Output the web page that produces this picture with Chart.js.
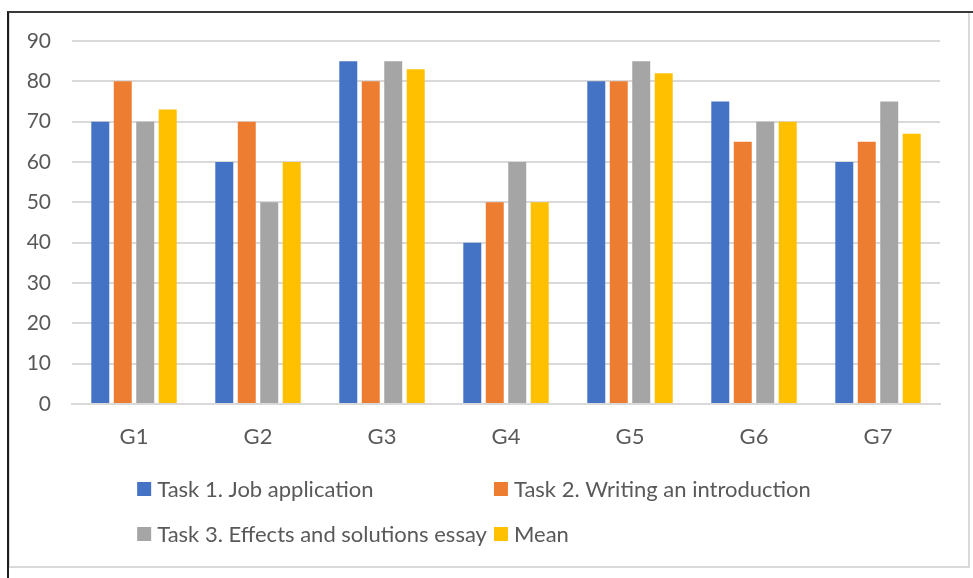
<!DOCTYPE html>
<html>
<head>
<meta charset="utf-8">
<script src="https://cdn.jsdelivr.net/npm/chart.js@4"></script>
<style>
  body { margin: 0; background: #fff; }
  #frame { position: absolute; left: 7px; top: 11px; right: 0; bottom: 0;
           border-top: 2px solid #3a3a3a; border-left: 2px solid #1e1e1e; }
  #box { position: absolute; left: 9px; top: 13px; width: 958px; height: 553px;
         border-left: 1px solid #d9d9d9; border-right: 2px solid #d9d9d9; border-bottom: 2px solid #d9d9d9; }
  #box canvas { display: block; }
</style>
</head>
<body>
<div id="frame"></div>
<div id="box"><canvas id="chart" width="958" height="553"></canvas></div>
<script>
const groups = ['G1', 'G2', 'G3', 'G4', 'G5', 'G6', 'G7'];
const task1 = [70, 60, 85, 40, 80, 75, 60];
const task2 = [80, 70, 80, 50, 80, 65, 65];
const task3 = [70, 50, 85, 60, 85, 70, 75];
const mean = [73, 60, 83, 50, 82, 70, 67];
const seriesNames = ['Task 1. Job application', 'Task 2. Writing an introduction',
                     'Task 3. Effects and solutions essay', 'Mean'];
const colors = ['#4472C4', '#ED7D31', '#A5A5A5', '#FFC000'];

const textColor = '#595959';
const fontFamily = 'Lato, "Open Sans", sans-serif';

// Excel-style legend: two rows, items lined up in columns
const gridLegend = {
    id: 'gridLegend',
    afterDraw(chart) {
        const ctx = chart.ctx;
        const sets = chart.data.datasets;
        const box = 14, gap = 6, colGap = 7;
        ctx.save();
        ctx.font = '22px ' + fontFamily;
        ctx.textBaseline = 'middle';
        const w = sets.map(ds => box + gap + ctx.measureText(ds.label).width);
        const col1 = Math.max(w[0], w[2]) + colGap;
        const col2 = Math.max(w[1], w[3]);
        const startX = (chart.width - col1 - col2) / 2 - 15;
        const rows = [476, 521];
        sets.forEach((ds, i) => {
            const x = startX + (i % 2 ? col1 : 0);
            const y = rows[Math.floor(i / 2)];
            ctx.fillStyle = ds.backgroundColor;
            ctx.fillRect(x, y - box / 2, box, box);
            ctx.fillStyle = textColor;
            ctx.fillText(ds.label, x + box + gap, y + 1);
        });
        ctx.restore();
    }
};

new Chart(document.getElementById('chart'), {
    type: 'bar',
    plugins: [gridLegend],
    data: {
        labels: groups,
        datasets: [task1, task2, task3, mean].map((vals, i) => ({
            label: seriesNames[i],
            data: vals,
            backgroundColor: colors[i],
            barPercentage: 0.8,
            categoryPercentage: 0.725
        }))
    },
    options: {
        responsive: false,
        animation: false,
        layout: { padding: { left: 0, top: 28, right: 28, bottom: 0 } },
        plugins: {
            legend: { display: false },
            tooltip: { enabled: false }
        },
        scales: {
            x: {
                grid: { display: false, drawTicks: false },
                border: { color: '#d9d9d9', width: 2 },
                ticks: { color: textColor, padding: 20, font: { family: fontFamily, size: 22 } },
                afterFit(scale) { scale.height = 162; }
            },
            y: {
                min: 0,
                max: 90,
                ticks: { stepSize: 10, color: textColor, padding: 0, font: { family: fontFamily, size: 21 } },
                // invisible tick marks keep the labels away from the plot
                grid: { color: '#d9d9d9', lineWidth: 2, drawTicks: true, tickLength: 21, tickColor: 'rgba(0,0,0,0)' },
                border: { display: false },
                afterFit(scale) { scale.width = 62; }
            }
        }
    }
});
</script>
</body>
</html>
